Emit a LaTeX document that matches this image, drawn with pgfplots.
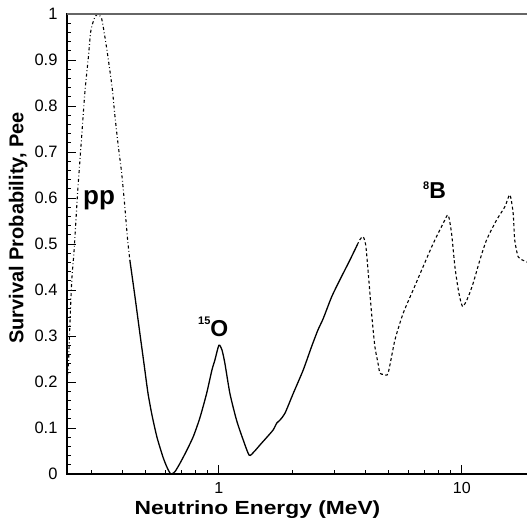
\documentclass[border=0pt]{standalone}
\usepackage{fontspec}
\setmainfont{Liberation Sans}
\usepackage{graphicx}
\usepackage{pgfplots}
\pgfplotsset{compat=1.18}

\begin{document}
\begin{tikzpicture}
\begin{axis}[
    xmode=log,
    scale only axis,
    width=468pt, height=460pt,
    xmin=0.237, xmax=20,
    ymin=0, ymax=1,
    axis line style={line width=1.3pt},
    tick align=inside,
    xtick pos=bottom, ytick pos=left,
    xtick={1,10}, xticklabels={1,10},
    minor xtick={0.3,0.4,0.5,0.6,0.7,0.8,0.9,2,3,4,5,6,7,8,9},
    ytick={0,0.1,...,1.01},
    minor y tick num=4,
    major tick length=9pt, minor tick length=4.5pt,
    every tick/.style={black, line width=0.9pt},
    /pgf/number format/assume math mode=true,
    /pgf/number format/.cd, fixed, precision=1, /pgfplots/.cd,
    yticklabel style={font=\fontsize{16.5}{16.5}\selectfont, xshift=-6pt},
    xticklabel style={font=\fontsize{16}{16}\selectfont, yshift=-5pt},
    xlabel={\scalebox{1.2}[1]{Neutrino Energy (MeV)}},
    xlabel style={font=\fontsize{19}{19}\selectfont\bfseries, anchor=base,
        at={(axis description cs:0.407,-0.089)}},
    ylabel={Survival Probability, Pee},
    ylabel style={font=\fontsize{20}{20}\selectfont\bfseries, anchor=center,
        at={(axis description cs:-0.104,0.535)}},
]
% pp branch, dash-dot
\addplot[black, line width=1.1pt, smooth, tension=0.4,
    dash pattern=on 3pt off 2.5pt on 0.8pt off 2.5pt] coordinates {
(0.238,0.215) (0.240,0.233) (0.244,0.335) (0.248,0.422) (0.253,0.480)
(0.257,0.537) (0.262,0.611) (0.268,0.683) (0.272,0.730) (0.281,0.832)
(0.290,0.904) (0.297,0.963) (0.307,0.990) (0.317,1.000) (0.329,0.990)
(0.340,0.948) (0.350,0.904) (0.364,0.838) (0.373,0.780) (0.385,0.715)
(0.398,0.654) (0.410,0.581) (0.421,0.509) (0.430,0.465)
};
% solid middle part
\addplot[black, line width=1.3pt, smooth, tension=0.4] coordinates {
(0.430,0.465) (0.4515,0.385) (0.4733,0.304) (0.4916,0.240) (0.5105,0.176)
(0.5304,0.128) (0.556,0.080) (0.5885,0.037) (0.611,0.015) (0.634,0.000)
(0.659,0.005) (0.691,0.023) (0.732,0.048) (0.784,0.081) (0.835,0.122)
(0.890,0.175) (0.936,0.226) (0.963,0.248) (1.000,0.280) (1.029,0.270)
(1.058,0.241) (1.110,0.175) (1.182,0.117) (1.259,0.074) (1.332,0.041)
(1.393,0.048) (1.475,0.063) (1.576,0.080) (1.673,0.096) (1.732,0.111)
(1.782,0.117) (1.870,0.132) (2.022,0.175) (2.223,0.226) (2.407,0.277)
(2.556,0.313) (2.688,0.338) (2.910,0.385) (3.147,0.422) (3.460,0.465)
(3.710,0.498)
};
% 8B branch, dashed
\addplot[black, line width=1.1pt, smooth, tension=0.4,
    dash pattern=on 3pt off 2.5pt] coordinates {
(3.710,0.498) (3.800,0.509) (3.920,0.516) (4.020,0.498) (4.120,0.436)
(4.250,0.349) (4.385,0.277) (4.510,0.243) (4.600,0.219) (4.770,0.217)
(4.970,0.219) (5.300,0.291) (5.730,0.349) (6.300,0.400) (6.930,0.451)
(7.620,0.501) (8.380,0.545) (8.780,0.563) (9.070,0.523) (9.360,0.451)
(9.670,0.400) (9.910,0.374) (10.12,0.364) (10.62,0.385) (11.13,0.415)
(11.86,0.465) (12.64,0.509) (13.89,0.552) (15.03,0.581) (15.76,0.607)
(16.26,0.567) (16.50,0.509) (17.05,0.472) (17.80,0.465) (18.50,0.461)
(20.00,0.455)
};
\node[anchor=base, inner sep=0, font=\fontsize{26}{26}\selectfont\bfseries]
    at (axis cs:0.321,0.585) {pp};
\node[anchor=base west, inner sep=0, font=\fontsize{23}{23}\selectfont\bfseries]
    at (axis cs:0.82,0.298) {\raisebox{12pt}{\fontsize{11}{11}\selectfont 15}O};
\node[anchor=base west, inner sep=0, font=\fontsize{23}{23}\selectfont\bfseries]
    at (axis cs:6.92,0.60) {\raisebox{9pt}{\fontsize{11}{11}\selectfont 8}B};
\end{axis}
\draw[black!60, line width=1.3pt] (current axis.north west) -- (current axis.north east);
\pgfresetboundingbox
\useasboundingbox (current axis.south west) ++(-67pt,-46pt) rectangle ++(527pt,520pt);
\end{tikzpicture}
\end{document}
